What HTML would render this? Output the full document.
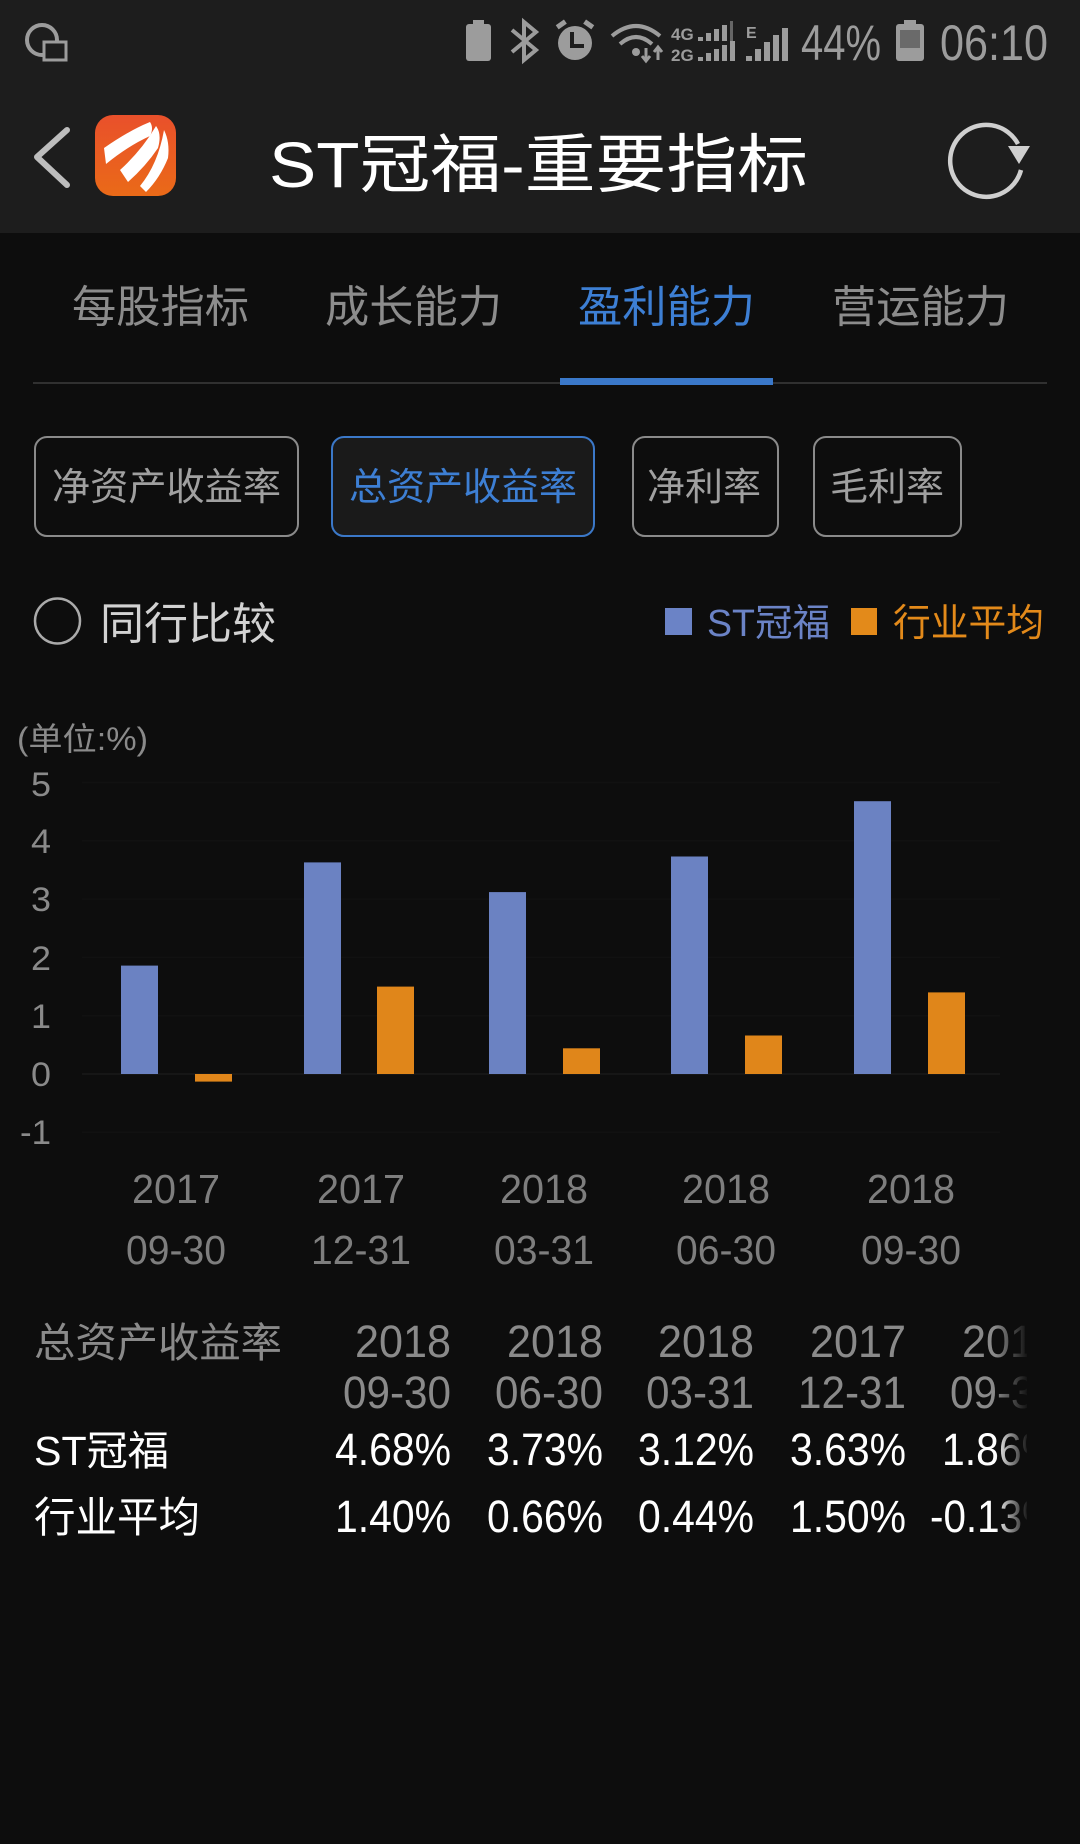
<!DOCTYPE html>
<html><head><meta charset="utf-8">
<style>
html,body{margin:0;padding:0;background:#0d0d0d;}
svg{display:block;}
text{font-family:"Liberation Sans","Noto Sans CJK SC",sans-serif;}
</style></head>
<body>
<svg width="1080" height="1844" viewBox="0 0 1080 1844" xmlns="http://www.w3.org/2000/svg">
<defs>
<linearGradient id="lg" x1="0" y1="0" x2="0" y2="1">
<stop offset="0" stop-color="#e9502b"/><stop offset="1" stop-color="#ea6a18"/>
</linearGradient>
<linearGradient id="fade" x1="0" y1="0" x2="1" y2="0">
<stop offset="0" stop-color="#0d0d0d" stop-opacity="0"/><stop offset="1" stop-color="#0d0d0d" stop-opacity="1"/>
</linearGradient>
<clipPath id="tclip"><rect x="0" y="1300" width="1027" height="260"/></clipPath>
</defs>
<rect x="0" y="0" width="1080" height="1844" fill="#0d0d0d"/>
<!-- status + header -->
<rect x="0" y="0" width="1080" height="233" fill="#1d1d1d"/>
<g fill="#9c9c9c" stroke="none">
<circle cx="42" cy="40" r="15" fill="none" stroke="#9c9c9c" stroke-width="4"/>
<rect x="44" y="42" width="22" height="18" fill="#1d1d1d" stroke="#9c9c9c" stroke-width="3"/>
<rect x="466" y="24" width="25" height="37" rx="3"/>
<rect x="473" y="20" width="11" height="5"/>
<path d="M512 30 L536 50 L524 60 L524 22 L536 32 L512 52" fill="none" stroke="#9c9c9c" stroke-width="4"/>
<circle cx="575" cy="43" r="17"/>
<rect x="556" y="22" width="10" height="5" transform="rotate(-35 561 24)"/>
<rect x="584" y="22" width="10" height="5" transform="rotate(35 589 24)"/>
<path d="M572 32 V46 H584" fill="none" stroke="#1d1d1d" stroke-width="4"/>
<path d="M612 36 Q636 16 660 36" fill="none" stroke="#9c9c9c" stroke-width="4"/>
<path d="M620 44 Q636 30 652 44" fill="none" stroke="#9c9c9c" stroke-width="4"/>
<circle cx="636" cy="52" r="4"/>
<path d="M646 48 V60 M642 56 L646 61 L650 56 M658 60 V48 M654 52 L658 47 L662 52" fill="none" stroke="#9c9c9c" stroke-width="3"/>
<text x="671" y="40" font-size="17" font-weight="bold" fill="#9c9c9c">4G</text>
<text x="671" y="61" font-size="17" font-weight="bold" fill="#9c9c9c">2G</text>
<rect x="698" y="37" width="5" height="4"/><rect x="706" y="33" width="5" height="8"/><rect x="714" y="29" width="5" height="12"/><rect x="722" y="25" width="5" height="16"/><rect x="730" y="21" width="3" height="20" fill="#666"/>
<rect x="698" y="57" width="5" height="4"/><rect x="706" y="53" width="5" height="8"/><rect x="714" y="49" width="5" height="12"/><rect x="722" y="45" width="5" height="16"/><rect x="730" y="41" width="5" height="20"/>
<text x="746" y="38" font-size="16" font-weight="bold" fill="#9c9c9c">E</text>
<rect x="746" y="56" width="6" height="5"/><rect x="755" y="49" width="6" height="12"/><rect x="764" y="42" width="6" height="19"/><rect x="773" y="35" width="6" height="26"/><rect x="782" y="28" width="6" height="33"/>
<rect x="896" y="24" width="28" height="37" rx="3"/>
<rect x="904" y="20" width="12" height="5"/>
<rect x="900" y="30" width="20" height="18" fill="#6a6a6a"/>
</g>
<text x="801" y="60" font-size="50" fill="#9c9c9c" textLength="80" lengthAdjust="spacingAndGlyphs">44%</text>
<text x="940" y="60" font-size="50" fill="#9c9c9c" textLength="108" lengthAdjust="spacingAndGlyphs">06:10</text>
<!-- header -->
<polyline points="67,130 37,157 67,185" fill="none" stroke="#bdbdbd" stroke-width="6" stroke-linecap="round" stroke-linejoin="round"/>
<rect x="95" y="115" width="81" height="81" rx="18" fill="url(#lg)"/>
<g fill="#fff">
<path d="M104 148 Q130 130 150 122 Q154 128 150 136 Q128 146 106 164 Z"/>
<path d="M120 170 Q142 150 156 126 Q162 134 158 148 Q146 166 128 182 Z"/>
<path d="M140 186 Q158 164 164 130 Q170 142 168 158 Q160 178 146 192 Z"/>
</g>
<text x="269" y="187" font-size="64" fill="#ffffff" textLength="539" lengthAdjust="spacingAndGlyphs">ST冠福-重要指标</text>
<path d="M1018 144 A36 36 0 1 0 1021 170" fill="none" stroke="#cfcfcf" stroke-width="4.5"/>
<path d="M1008 146 L1030 146 L1019 164 Z" fill="#cfcfcf"/>
<!-- tabs -->
<text x="72" y="322" font-size="44" fill="#8c8c8c" textLength="177" lengthAdjust="spacingAndGlyphs">每股指标</text>
<text x="325" y="322" font-size="44" fill="#8c8c8c" textLength="177" lengthAdjust="spacingAndGlyphs">成长能力</text>
<text x="578" y="322" font-size="44" fill="#3d7fd4" textLength="177" lengthAdjust="spacingAndGlyphs">盈利能力</text>
<text x="832" y="322" font-size="44" fill="#8c8c8c" textLength="177" lengthAdjust="spacingAndGlyphs">营运能力</text>
<rect x="33" y="382" width="1014" height="2" fill="#303030"/>
<rect x="560" y="378" width="213" height="7" fill="#3a78c9"/>
<!-- buttons -->
<rect x="35" y="437" width="263" height="99" rx="12" fill="none" stroke="#8a8a8a" stroke-width="2"/>
<rect x="332" y="437" width="262" height="99" rx="12" fill="#1a1a1a" stroke="#3b78c8" stroke-width="2"/>
<rect x="633" y="437" width="145" height="99" rx="12" fill="none" stroke="#8a8a8a" stroke-width="2"/>
<rect x="814" y="437" width="147" height="99" rx="12" fill="none" stroke="#8a8a8a" stroke-width="2"/>
<text x="52" y="500" font-size="38" fill="#a0a0a0" textLength="229" lengthAdjust="spacingAndGlyphs">净资产收益率</text>
<text x="349" y="500" font-size="38" fill="#3d7fd4" textLength="228" lengthAdjust="spacingAndGlyphs">总资产收益率</text>
<text x="647" y="500" font-size="38" fill="#a0a0a0" textLength="114" lengthAdjust="spacingAndGlyphs">净利率</text>
<text x="830" y="500" font-size="38" fill="#a0a0a0" textLength="114" lengthAdjust="spacingAndGlyphs">毛利率</text>
<!-- radio + legend -->
<circle cx="57.5" cy="621" r="22.5" fill="none" stroke="#aaaaaa" stroke-width="2.5"/>
<text x="100" y="639" font-size="44" fill="#d2d2d2" textLength="176" lengthAdjust="spacingAndGlyphs">同行比较</text>
<rect x="665" y="608" width="27" height="27" fill="#6b83c6"/>
<text x="707" y="636" font-size="38" fill="#6b83c6" textLength="123" lengthAdjust="spacingAndGlyphs">ST冠福</text>
<rect x="851" y="608" width="26" height="27" fill="#e38a1a"/>
<text x="893" y="636" font-size="38" fill="#e38a1a" textLength="151" lengthAdjust="spacingAndGlyphs">行业平均</text>
<!-- chart -->
<text x="17" y="750" font-size="32" fill="#8a8a8a" textLength="131" lengthAdjust="spacingAndGlyphs">(单位:%)</text>
<g stroke="#111111" stroke-width="1.5">
<line x1="82" y1="782.5" x2="1000" y2="782.5"/>
<line x1="82" y1="840.8" x2="1000" y2="840.8"/>
<line x1="82" y1="899.1" x2="1000" y2="899.1"/>
<line x1="82" y1="957.4" x2="1000" y2="957.4"/>
<line x1="82" y1="1015.7" x2="1000" y2="1015.7"/>
<line x1="82" y1="1132.3" x2="1000" y2="1132.3"/>
</g>
<line x1="82" y1="1074" x2="1000" y2="1074" stroke="#161616" stroke-width="2"/>
<g font-size="34" fill="#8a8a8a" text-anchor="end">
<text x="51" y="796" textLength="20" lengthAdjust="spacingAndGlyphs">5</text>
<text x="51" y="853" textLength="20" lengthAdjust="spacingAndGlyphs">4</text>
<text x="51" y="911" textLength="20" lengthAdjust="spacingAndGlyphs">3</text>
<text x="51" y="970" textLength="20" lengthAdjust="spacingAndGlyphs">2</text>
<text x="51" y="1028" textLength="20" lengthAdjust="spacingAndGlyphs">1</text>
<text x="51" y="1086" textLength="20" lengthAdjust="spacingAndGlyphs">0</text>
<text x="51" y="1144" textLength="31" lengthAdjust="spacingAndGlyphs">-1</text>
</g>
<g fill="#6b82c2">
<rect x="121" y="965.6" width="37" height="108.4"/>
<rect x="304" y="862.4" width="37" height="211.6"/>
<rect x="489" y="892.1" width="37" height="181.9"/>
<rect x="671" y="856.5" width="37" height="217.5"/>
<rect x="854" y="801.2" width="37" height="272.8"/>
</g>
<g fill="#e0861a">
<rect x="195" y="1074" width="37" height="7.6"/>
<rect x="377" y="986.6" width="37" height="87.4"/>
<rect x="563" y="1048.3" width="37" height="25.7"/>
<rect x="745" y="1035.5" width="37" height="38.5"/>
<rect x="928" y="992.4" width="37" height="81.6"/>
</g>
<g font-size="41" fill="#7e7e7e" text-anchor="middle">
<text x="176" y="1203" textLength="88" lengthAdjust="spacingAndGlyphs">2017</text><text x="176" y="1264" textLength="100" lengthAdjust="spacingAndGlyphs">09-30</text>
<text x="361" y="1203" textLength="88" lengthAdjust="spacingAndGlyphs">2017</text><text x="361" y="1264" textLength="100" lengthAdjust="spacingAndGlyphs">12-31</text>
<text x="544" y="1203" textLength="88" lengthAdjust="spacingAndGlyphs">2018</text><text x="544" y="1264" textLength="100" lengthAdjust="spacingAndGlyphs">03-31</text>
<text x="726" y="1203" textLength="88" lengthAdjust="spacingAndGlyphs">2018</text><text x="726" y="1264" textLength="100" lengthAdjust="spacingAndGlyphs">06-30</text>
<text x="911" y="1203" textLength="88" lengthAdjust="spacingAndGlyphs">2018</text><text x="911" y="1264" textLength="100" lengthAdjust="spacingAndGlyphs">09-30</text>
</g>
<!-- table -->
<text x="34" y="1357" font-size="41" fill="#8a8a8a" textLength="248" lengthAdjust="spacingAndGlyphs">总资产收益率</text>
<text x="34" y="1465" font-size="41" fill="#ffffff" textLength="135" lengthAdjust="spacingAndGlyphs">ST冠福</text>
<text x="34" y="1532" font-size="42" fill="#ffffff" textLength="166" lengthAdjust="spacingAndGlyphs">行业平均</text>
<g clip-path="url(#tclip)" text-anchor="end">
<g font-size="45" fill="#8a8a8a">
<text x="451" y="1357" textLength="96" lengthAdjust="spacingAndGlyphs">2018</text><text x="451" y="1408" textLength="108" lengthAdjust="spacingAndGlyphs">09-30</text>
<text x="603" y="1357" textLength="96" lengthAdjust="spacingAndGlyphs">2018</text><text x="603" y="1408" textLength="108" lengthAdjust="spacingAndGlyphs">06-30</text>
<text x="754" y="1357" textLength="96" lengthAdjust="spacingAndGlyphs">2018</text><text x="754" y="1408" textLength="108" lengthAdjust="spacingAndGlyphs">03-31</text>
<text x="906" y="1357" textLength="96" lengthAdjust="spacingAndGlyphs">2017</text><text x="906" y="1408" textLength="108" lengthAdjust="spacingAndGlyphs">12-31</text>
<text x="1058" y="1357" textLength="96" lengthAdjust="spacingAndGlyphs">2017</text><text x="1058" y="1408" textLength="108" lengthAdjust="spacingAndGlyphs">09-30</text>
</g>
<g font-size="45" fill="#ffffff">
<text x="451" y="1465" textLength="116" lengthAdjust="spacingAndGlyphs">4.68%</text><text x="451" y="1532" textLength="116" lengthAdjust="spacingAndGlyphs">1.40%</text>
<text x="603" y="1465" textLength="116" lengthAdjust="spacingAndGlyphs">3.73%</text><text x="603" y="1532" textLength="116" lengthAdjust="spacingAndGlyphs">0.66%</text>
<text x="754" y="1465" textLength="116" lengthAdjust="spacingAndGlyphs">3.12%</text><text x="754" y="1532" textLength="116" lengthAdjust="spacingAndGlyphs">0.44%</text>
<text x="906" y="1465" textLength="116" lengthAdjust="spacingAndGlyphs">3.63%</text><text x="906" y="1532" textLength="116" lengthAdjust="spacingAndGlyphs">1.50%</text>
<text x="1058" y="1465" textLength="116" lengthAdjust="spacingAndGlyphs">1.86%</text><text x="1058" y="1532" textLength="128" lengthAdjust="spacingAndGlyphs">-0.13%</text>
</g>
</g>
<rect x="995" y="1310" width="34" height="240" fill="url(#fade)"/>
</svg>
</body></html>
